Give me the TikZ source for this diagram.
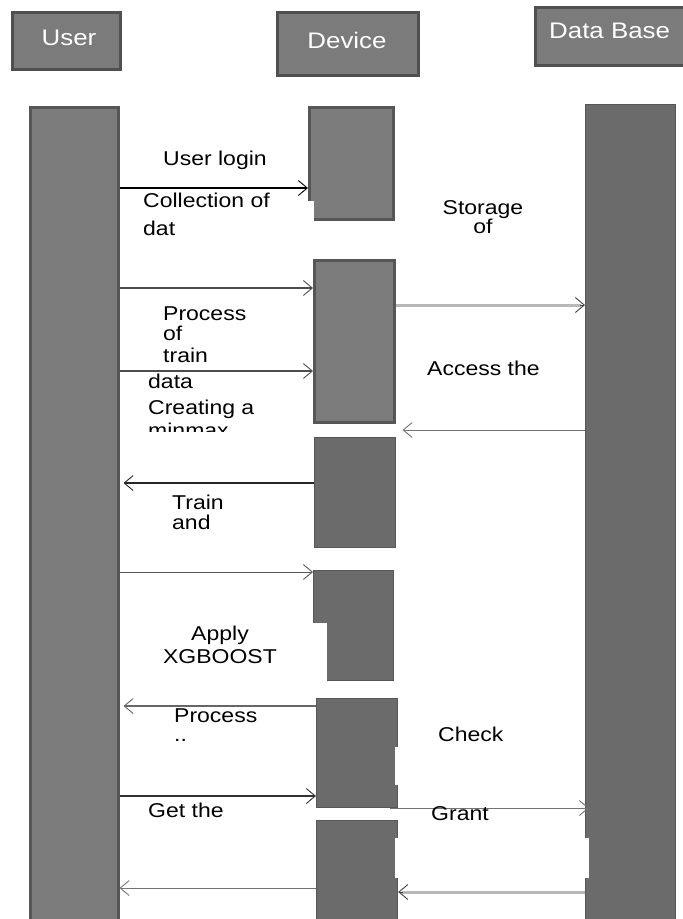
\documentclass[tikz,border=0pt]{standalone}
\usepackage{fontspec}
\setmainfont{Liberation Sans}[FakeStretch=1.15]
\usetikzlibrary{arrows.meta,calc}
\definecolor{hdfill}{HTML}{7B7B7B}
\definecolor{hdline}{HTML}{505050}
\definecolor{barlight}{HTML}{7B7B7B}
\definecolor{bardark}{HTML}{6B6B6B}
\definecolor{barline}{HTML}{565656}
\definecolor{pale}{HTML}{B8B8B8}
\tikzset{
  hdr/.style={draw=hdline, fill=hdfill, line width=3pt, inner sep=0pt, anchor=north west},
  hdrtext/.style={inner sep=0pt, text=white, font=\fontsize{22.5}{24}\selectfont},
  barA/.style={draw=barline, fill=barlight, line width=2.5pt, inner sep=0pt, anchor=north west},
  barB/.style={draw=barline, fill=bardark, line width=1.2pt, inner sep=0pt, anchor=north west},
  tipo/.style={-{Straight Barb[length=9pt,width=15pt,line width=0.9pt]}},
  msg/.style={tipo, draw=#1},
  lbl/.style={anchor=base west, inner sep=0pt, font=\fontsize{20}{22}\selectfont},
  lblc/.style={anchor=base, inner sep=0pt, font=\fontsize{20}{22}\selectfont},
}
\begin{document}
\begin{tikzpicture}[x=1pt,y=-1pt]
\useasboundingbox (0,0) rectangle (683,919);
\fill[white] (0,0) rectangle (683,919);
% headers
\node[hdr, minimum width=108pt, minimum height=57pt] (huser) at (11,11) {};
\node[hdrtext] (husert) at (69,38) {User};
\node[hdr, minimum width=141pt, minimum height=63pt] (hdev) at (276,11) {};
\node[hdrtext] (hdevt) at (347,40) {Device};
\node[hdr, minimum width=150pt, minimum height=58pt] (hdb) at (534,6) {};
\node[hdrtext, anchor=west] (hdbt) at (549,31) {Data Base};
% lifelines / activation bars
\node[barA, minimum width=88pt, minimum height=820pt] (user) at (29,106) {};
\node[barA, minimum width=84pt, minimum height=112pt] (dev1) at (308,106) {};
\fill[white] (305,201) rectangle (313.5,221);
\node[barA, minimum width=80pt, minimum height=162pt] (dev2) at (313,259) {};
\node[barB, minimum width=81pt, minimum height=110pt] (dev3) at (314,437) {};
\node[barB, minimum width=80pt, minimum height=110pt] (dev4) at (313,570) {};
\fill[white] (311,623) rectangle (327,682);
\node[barB, minimum width=81pt, minimum height=109pt] (dev5) at (316,698) {};
\fill[white] (395,747) rectangle (400,785);
\node[barB, minimum width=81pt, minimum height=110pt] (dev6) at (316,820) {};
\fill[white] (395,838) rectangle (400,878);
\node[barB, minimum width=90pt, minimum height=830pt] (db) at (585,104) {};
\fill[white] (583,838) rectangle (588.5,878);
% messages
\draw[msg=black, line width=1.5pt] (user.east |- 0,188) -- (dev1.west |- 0,188);
\draw[msg=black!70, line width=1.1pt] (user.east |- 0,288) -- (dev2.west |- 0,288);
\draw[msg=black!70, line width=1.1pt] (user.east |- 0,371) -- (dev2.west |- 0,371);
\draw[pale, line width=3pt] (dev2.east |- 0,305) -- ($(db.west |- 0,305)+(-4,0)$);
\draw[msg=black!75, line width=1pt] ($(db.west |- 0,305)+(-5,0)$) -- (db.west |- 0,305);
\draw[msg=black!55, line width=1pt] (db.west |- 0,430) -- ($(dev2.east |- 0,430)+(7,0)$);
\draw[msg=black!85, line width=2pt] (dev3.west |- 0,483) -- ($(user.east |- 0,483)+(4,0)$);
\draw[msg=black!65, line width=0.9pt] (user.east |- 0,572) -- (dev4.west |- 0,572);
\draw[msg=black!60, line width=1.1pt] (dev5.west |- 0,706) -- ($(user.east |- 0,706)+(4,0)$);
\draw[msg=black!80, line width=1.5pt] (user.east |- 0,796) -- (dev5.west |- 0,796);
\draw[msg=black!55, line width=1pt] ($(dev5.east |- 0,808)+(-8,0)$) -- ($(db.west |- 0,808)+(4,0)$);
\draw[pale, line width=3pt] (db.west |- 0,892) -- ($(dev6.east |- 0,892)+(4,0)$);
\draw[msg=black!75, line width=1pt] ($(dev6.east |- 0,892)+(5,0)$) -- (dev6.east |- 0,892);
\draw[msg=black!55, line width=1pt] (dev6.west |- 0,888) -- (user.east |- 0,888);
% labels
\node[lbl] (t1) at (163,165) {User login};
\node[lbl] (t2a) at (143,207) {Collection of};
\node[lbl] (t2b) at (143,235) {dat};
\node[lbl] (t3a) at (163,320) {Process};
\node[lbl] (t3b) at (163,340) {of};
\node[lbl] (t3c) at (163,362) {train};
\node[lbl] (t3d) at (148,388) {data};
\node[lbl] (t3e) at (148,414) {Creating a};
\begin{scope}
\clip (100,415) rectangle (300,431);
\node[lbl] (t3f) at (148,437) {minmax};
\end{scope}
\node[lblc] (t4a) at (483,214) {Storage};
\node[lblc] (t4b) at (483,233) {of};
\node[lbl] (t5) at (427,375) {Access the};
\node[lbl] (t6a) at (172,509) {Train};
\node[lbl] (t6b) at (172,529) {and};
\node[lblc] (t7a) at (220,640) {Apply};
\node[lblc] (t7b) at (220,663) {XGBOOST};
\node[lbl] (t8a) at (174,722) {Process};
\node[lbl] (t8b) at (174,741) {..};
\node[lbl] (t9) at (148,817) {Get the};
\node[lbl] (t10) at (438,741) {Check};
\node[lbl] (t11) at (431,820) {Grant};
\end{tikzpicture}
\end{document}
